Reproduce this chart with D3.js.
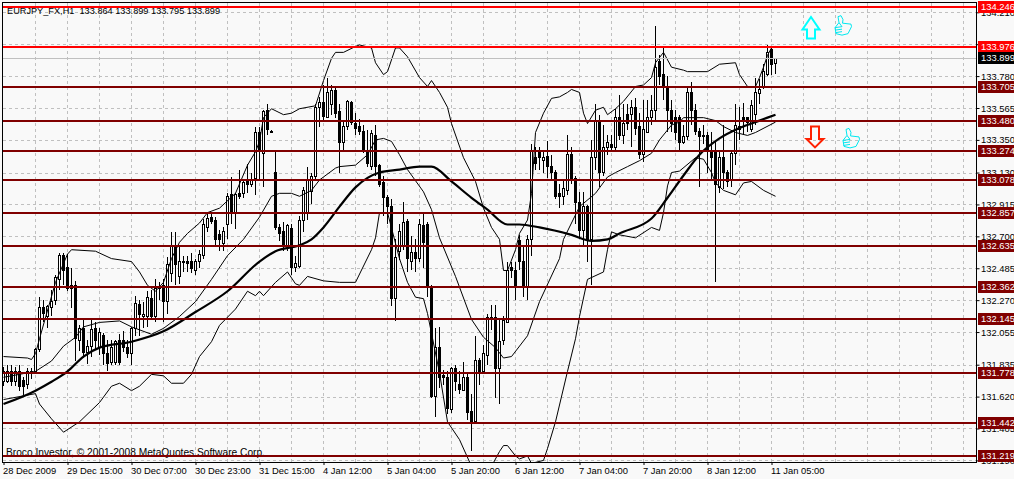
<!DOCTYPE html>
<html>
<head>
<meta charset="utf-8">
<script src="https://cdn.jsdelivr.net/npm/d3@7"></script>
<style>
    html, body { margin: 0; padding: 0; background: #f9f9f9; overflow: hidden; }
    svg { display: block; }
    text { font-family: "Liberation Sans", Arial, sans-serif; font-size: 9.4px; fill: #000; }
</style>
</head>
<body>
<div id="chart"></div>
<script>
const titleText = "EURJPY_FX,H1  133.864 133.899 133.795 133.899";
const copyrightText = "Broco Investor, © 2001-2008 MetaQuotes Software Corp.";

const labelBars = [0, 16, 32, 48, 64, 80, 96, 112, 128, 144, 160, 176, 192];
const xLabels = ["28 Dec 2009", "29 Dec 15:00", "30 Dec 07:00", "30 Dec 23:00", "31 Dec 15:00", "4 Jan 12:00", "5 Jan 04:00",
    "5 Jan 20:00", "6 Jan 12:00", "7 Jan 04:00", "7 Jan 20:00", "8 Jan 12:00", "11 Jan 05:00"];
const priceTicks = [134.210, 133.995, 133.780, 133.565, 133.350, 133.130, 132.915, 132.700, 132.485, 132.270, 132.055, 131.835, 131.620, 131.405, 131.190];

const redLevels = [134.246, 133.976];
const darkLevels = [133.705, 133.480, 133.274, 133.078, 132.857, 132.635, 132.362, 132.145, 131.778, 131.442, 131.219];
const bidPrice = 133.899;

// candles, one entry per hourly bar
const opens = [131.72,131.72,131.79,131.72,131.79,131.73,131.70,131.79,131.79,131.94,132.22,132.16,132.22,132.27,132.41,132.57,132.49,132.35,132.37,132.00,
    132.08,131.92,131.96,132.08,131.95,132.03,131.91,131.85,131.85,132.00,132.00,131.95,131.91,132.08,132.24,132.16,132.16,132.28,132.16,132.35,
    132.37,132.26,132.45,132.63,132.43,132.53,132.53,132.53,132.47,132.53,132.57,132.76,132.83,132.81,132.71,132.65,132.78,132.98,132.86,132.99,
    132.99,133.07,133.05,133.09,133.40,133.26,133.55,133.41,133.13,132.76,132.73,132.64,132.75,132.49,132.50,132.81,132.86,133.00,133.10,133.57,
    133.60,133.50,133.59,133.68,133.54,133.33,133.44,133.60,133.46,133.44,133.41,133.28,133.17,133.38,133.18,133.06,132.96,132.90,132.28,132.60,
    132.63,132.80,132.53,132.59,132.55,132.77,132.78,132.36,131.62,131.95,131.76,131.75,131.53,131.81,131.70,131.66,131.75,131.52,131.45,131.86,
    131.79,131.90,132.14,132.15,131.81,132.00,132.12,132.49,132.47,132.67,132.53,132.36,132.68,133.23,133.27,133.21,133.24,133.17,133.13,132.99,
    132.97,133.01,133.25,133.09,132.93,132.74,132.90,132.68,133.23,133.48,133.13,133.30,133.32,133.30,133.50,133.38,133.52,133.52,133.57,133.44,
    133.25,133.40,133.50,133.55,133.88,133.79,133.71,133.55,133.50,133.50,133.33,133.37,133.67,133.55,133.41,133.37,133.38,133.28,133.28,133.03,
    133.23,133.13,133.08,133.26,133.44,133.50,133.50,133.42,133.52,133.66,133.70,133.79,133.96,133.864];
const highs = [131.82,131.83,131.83,131.82,131.83,131.75,131.81,131.81,131.95,132.29,132.27,132.24,132.34,132.44,132.59,132.59,132.58,132.49,132.40,132.10,
    132.14,132.00,132.14,132.12,132.08,132.05,132.00,132.00,132.00,132.04,132.06,132.00,132.09,132.30,132.27,132.26,132.33,132.34,132.41,132.39,
    132.41,132.56,132.73,132.73,132.63,132.57,132.57,132.59,132.55,132.61,132.82,132.86,132.85,132.83,132.74,132.76,132.99,133.10,132.99,133.15,
    133.08,133.19,133.13,133.44,133.44,133.55,133.59,133.42,133.27,132.78,132.80,132.78,132.78,132.57,132.84,133.03,133.17,133.13,133.59,133.64,
    133.72,133.77,133.72,133.71,133.59,133.48,133.62,133.61,133.53,133.49,133.45,133.42,133.42,133.45,133.19,133.11,132.98,132.95,132.68,132.78,
    132.93,132.82,132.70,132.68,132.82,132.85,132.80,132.37,132.08,132.09,131.80,131.79,131.82,131.83,131.79,131.85,131.78,131.64,132.03,131.88,
    131.97,132.18,132.24,132.24,132.14,132.16,132.53,132.53,132.53,132.71,132.64,132.71,133.32,133.30,133.30,133.28,133.34,133.25,133.15,133.05,
    133.08,133.38,133.30,133.11,133.00,133.00,132.91,133.35,133.59,133.52,133.45,133.38,133.38,133.56,133.65,133.59,133.59,133.62,133.63,133.53,
    133.62,133.62,133.65,134.12,133.92,133.97,133.78,133.62,133.55,133.52,133.45,133.70,133.74,133.59,133.43,133.45,133.40,133.40,133.34,133.28,
    133.45,133.15,133.28,133.59,133.57,133.60,133.50,133.62,133.77,133.76,133.86,133.99,133.98,133.899];
const lows = [131.69,131.71,131.69,131.69,131.66,131.63,131.67,131.74,131.77,131.92,132.12,132.08,132.16,132.24,132.34,132.37,132.33,132.22,131.86,131.93,
    131.88,131.84,131.89,131.94,131.90,131.83,131.79,131.83,131.83,131.83,131.92,131.88,131.83,132.03,132.03,132.08,132.09,132.14,132.12,132.27,
    132.12,132.18,132.39,132.37,132.38,132.46,132.46,132.45,132.44,132.49,132.55,132.73,132.78,132.63,132.60,132.60,132.68,132.78,132.75,132.95,
    132.96,132.99,133.03,132.98,133.08,133.03,133.38,133.40,132.74,132.67,132.60,132.60,132.44,132.46,132.49,132.73,132.81,132.92,133.08,133.44,
    133.48,133.50,133.52,133.50,133.13,133.28,133.42,133.45,133.38,133.38,133.26,133.17,133.15,133.11,133.03,132.84,132.78,132.23,132.13,132.54,
    132.61,132.46,132.47,132.46,132.53,132.49,132.29,131.61,131.48,131.68,131.70,131.50,131.51,131.66,131.64,131.66,131.46,131.25,131.45,131.70,
    131.78,131.83,132.07,131.61,131.57,131.97,132.12,132.42,132.27,132.47,132.29,132.27,132.57,133.15,133.15,133.13,133.09,133.08,132.95,132.89,
    132.91,132.98,133.05,132.78,132.68,132.63,132.53,132.37,133.15,133.03,133.11,133.25,133.28,133.27,133.35,133.32,133.42,133.30,133.38,133.22,
    133.20,133.40,133.45,133.48,133.72,133.62,133.40,133.40,133.35,133.28,133.32,133.35,133.45,133.38,133.03,133.32,133.13,133.08,132.39,132.99,
    133.02,133.03,133.03,133.18,133.35,133.38,133.40,133.40,133.45,133.59,133.69,133.78,133.79,133.795];
const closes = [131.79,131.79,131.72,131.79,131.69,131.69,131.79,131.78,131.94,132.22,132.18,132.23,132.26,132.42,132.57,132.47,132.35,132.37,132.01,132.08,
    131.92,131.96,132.07,132.00,132.05,131.91,131.84,131.95,131.99,131.85,131.95,131.91,132.08,132.25,132.17,132.17,132.29,132.16,132.35,132.36,
    132.26,132.51,132.64,132.51,132.53,132.53,132.52,132.48,132.53,132.58,132.78,132.82,132.80,132.68,132.68,132.73,132.97,132.86,132.98,132.97,
    133.06,133.05,133.08,133.40,133.27,133.54,133.42,133.40,132.76,132.72,132.64,132.77,132.49,132.52,132.81,133.01,133.08,133.10,133.57,133.60,
    133.51,133.67,133.68,133.53,133.33,133.44,133.61,133.47,133.43,133.41,133.28,133.19,133.39,133.17,133.05,132.96,132.90,132.28,132.56,132.73,
    132.79,132.55,132.59,132.55,132.78,132.66,132.36,131.62,131.95,131.75,131.75,131.54,131.81,131.72,131.67,131.75,131.51,131.45,131.86,131.79,
    131.91,132.15,132.15,131.81,131.99,132.13,132.47,132.47,132.37,132.53,132.36,132.68,133.28,133.19,133.23,133.23,133.17,133.13,132.97,132.97,
    133.02,133.25,133.09,132.93,132.74,132.90,132.68,133.23,133.48,133.13,133.30,133.33,133.30,133.50,133.38,133.46,133.46,133.57,133.43,133.25,
    133.42,133.50,133.55,133.84,133.78,133.71,133.55,133.46,133.40,133.33,133.37,133.67,133.55,133.41,133.37,133.38,133.28,133.23,133.05,133.23,
    133.13,133.07,133.26,133.45,133.42,133.48,133.47,133.58,133.67,133.69,133.81,133.94,133.86,133.899];

// moving average, thick line
const maBars = [0,8,12,16,20,24,32,40,48,56,64,68,74,77,80,84,88,94,99,104,107,112,117,121,126,129,134,142,147,151,154,162,166,170,174,179,184,189,193];
const maValues = [131.57,131.66,131.72,131.79,131.89,131.95,131.99,132.06,132.19,132.33,132.53,132.60,132.64,132.68,132.76,132.90,133.03,133.13,133.15,133.17,
    133.17,133.07,132.96,132.88,132.78,132.78,132.76,132.71,132.67,132.68,132.72,132.82,132.96,133.11,133.25,133.36,133.43,133.48,133.52];

// envelope lines, thin
const upperBars = [0,6,7,8,9,13,16,17,23,27,32,34,36,38,40,42,44,46,49,51,54,58,61,63,64,65,67,70,72,74,78,80,82,83,85,88,89,92,93,95,96,98,99,101,104,106,107,109,111,112,115,118,120,122,124,125,126,128,129,131,132,133,135,137,139,141,142,144,145,146,148,150,151,153,155,158,160,162,163,165,167,170,171,176,179,183,184,186,188,189,190,191,192,193];
const upperValues = [131.89,131.88,131.87,131.91,132.01,132.39,132.58,132.61,132.60,132.55,132.53,132.46,132.37,132.33,132.39,132.55,132.66,132.72,132.79,132.86,132.89,132.99,133.18,133.27,133.34,133.50,133.56,133.52,133.53,133.56,133.58,133.75,133.90,133.94,133.94,133.98,133.99,133.97,133.87,133.79,133.81,133.97,133.97,133.91,133.77,133.71,133.75,133.67,133.57,133.46,133.23,133.07,132.89,132.76,132.68,132.47,132.47,132.61,132.72,132.81,132.99,133.40,133.53,133.63,133.64,133.67,133.69,133.67,133.53,133.46,133.55,133.57,133.52,133.56,133.61,133.71,133.72,133.77,133.87,133.94,133.84,133.82,133.81,133.81,133.86,133.87,133.79,133.71,133.71,133.77,133.84,133.92,133.97,133.98];
const middleBars = [0,8,12,15,18,20,24,29,32,37,40,44,48,52,56,60,64,67,69,72,74,77,79,83,84,88,91,93,95,97,99,101,105,107,109,113,117,120,123,125,127,131,134,139,140,144,148,151,153,156,159,162,164,167,169,170,175,178,180,183,186,188,193];
const middleValues = [131.75,131.79,131.86,131.96,132.02,132.09,132.12,132.13,132.09,132.04,132.08,132.16,132.26,132.41,132.57,132.68,132.83,132.97,132.99,132.99,132.97,133.01,133.08,133.16,133.17,133.18,133.25,133.35,133.36,133.34,133.25,133.15,133.00,132.88,132.69,132.43,132.14,132.02,131.95,131.88,131.89,132.03,132.26,132.55,132.68,132.90,132.99,133.10,133.13,133.17,133.21,133.26,133.35,133.45,133.47,133.50,133.50,133.48,133.44,133.40,133.38,133.40,133.47];
const lowerBars = [0,8,9,12,15,19,24,27,29,32,34,37,40,42,45,47,49,52,54,58,61,63,64,65,68,71,73,74,76,80,84,88,92,93,94,96,99,101,103,105,106,109,111,114,117,122,124,125,126,128,129,131,132,135,136,138,141,143,144,146,150,151,152,154,158,162,164,165,166,167,169,173,175,177,178,180,183,185,187,190,193];
const lowerValues = [131.60,131.64,131.57,131.47,131.38,131.45,131.58,131.69,131.71,131.66,131.69,131.77,131.76,131.71,131.71,131.77,131.89,131.99,132.10,132.21,132.33,132.30,132.33,132.30,132.39,132.46,132.38,132.37,132.43,132.40,132.39,132.39,132.61,132.69,132.86,132.86,132.55,132.39,132.29,132.28,132.18,131.78,131.45,131.33,131.15,131.15,131.25,131.29,131.29,131.22,131.20,131.22,131.17,131.19,131.27,131.45,131.79,132.01,132.16,132.41,132.46,132.61,132.73,132.71,132.69,132.76,132.74,132.86,133.04,133.13,133.14,133.23,133.22,133.13,133.06,133.01,132.98,133.06,133.07,133.01,132.97];

// objects placed on the chart: [bar, price]
const upArrow = [202, 134.104];
const downArrow = [203, 133.37];
const thumbs = [[210, 134.12], [212, 133.36]];

class Chart {

    constructor() {
        this.width = 1014;
        this.height = 479;
        this.right = 976;
        this.bottom = 462;
        this.lastGridBar = 240;

        this.svg = d3.select("#chart")
            .append("svg")
                .attr("width", this.width)
                .attr("height", this.height);

        this.createScales();
        this.drawGrid();
        this.drawCandles();
        this.drawLines();
        this.drawText();
        this.drawLevels();
        this.drawAxes();
        this.drawObjects();
    }

    createScales() {
        this.xScale = d3.scaleLinear().domain([0, 243.25]).range([3, this.right]);
        this.yScale = d3.scaleLinear().domain([131.19, 134.21]).range([460.4, 12.3]);

        this.svg.append("clipPath").attr("id", "plot")
            .append("rect")
                .attr("x", 2)
                .attr("y", 2)
                .attr("width", this.right - 2)
                .attr("height", this.bottom - 2);
    }

    drawGrid() {
        const grid = this.svg.append("g").attr("stroke", "#c0c0c0").attr("stroke-dasharray", "3,3").attr("shape-rendering", "crispEdges");

        grid.selectAll("line.v")
            .data(d3.range(8, this.lastGridBar + 1, 8))
            .enter()
            .append("line")
                .attr("x1", d => Math.round(this.xScale(d)) + 0.5)
                .attr("x2", d => Math.round(this.xScale(d)) + 0.5)
                .attr("y1", 3)
                .attr("y2", this.bottom);

        grid.selectAll("line.h")
            .data(priceTicks)
            .enter()
            .append("line")
                .attr("x1", 3)
                .attr("x2", this.right)
                .attr("y1", d => Math.round(this.yScale(d)) + 0.5)
                .attr("y2", d => Math.round(this.yScale(d)) + 0.5);
    }

    drawCandles() {
        const g = this.svg.append("g").attr("clip-path", "url(#plot)").attr("shape-rendering", "crispEdges");
        const candles = opens.map((o, i) => ({bar: i, o: o, h: highs[i], l: lows[i], c: closes[i]}));

        g.selectAll("line")
            .data(candles)
            .enter()
            .append("line")
                .attr("x1", d => this.xScale(d.bar) + 0.5)
                .attr("x2", d => this.xScale(d.bar) + 0.5)
                .attr("y1", d => this.yScale(d.h))
                .attr("y2", d => this.yScale(d.l))
                .attr("stroke", "#000");

        g.selectAll("rect")
            .data(candles)
            .enter()
            .append("rect")
                .attr("x", d => this.xScale(d.bar) - 0.5)
                .attr("width", 2)
                .attr("y", d => this.yScale(Math.max(d.o, d.c)))
                .attr("height", d => Math.max(1, Math.abs(this.yScale(d.o) - this.yScale(d.c))))
                .attr("fill", d => d.c >= d.o ? "#fff" : "#000")
                .attr("stroke", "#000");
    }

    drawLines() {
        const g = this.svg.append("g").attr("clip-path", "url(#plot)").attr("fill", "none").attr("stroke", "#000");
        const line = d3.line()
            .x(d => this.xScale(d[0]) + 0.5)
            .y(d => this.yScale(d[1]));
        const pairs = (bars, values) => bars.map((b, i) => [b, values[i]]);

        [[upperBars, upperValues], [middleBars, middleValues], [lowerBars, lowerValues]].forEach(s => {
            g.append("path").attr("d", line(pairs(s[0], s[1]))).attr("stroke-width", 1);
        });
        line.curve(d3.curveMonotoneX);
        g.append("path").attr("d", line(pairs(maBars, maValues))).attr("stroke-width", 2.2);
    }

    drawText() {
        this.svg.append("text").attr("x", 7).attr("y", 14).style("white-space", "pre").style("font-size", "9.2px").text(titleText);
        this.svg.append("text").attr("x", 6).attr("y", 456).style("font-size", "10.2px").text(copyrightText);
    }

    drawLevels() {
        const g = this.svg.append("g").attr("shape-rendering", "crispEdges");

        // bid line sits under the support and resistance levels
        g.append("line")
            .attr("x1", 3)
            .attr("x2", this.right)
            .attr("y1", Math.round(this.yScale(bidPrice)) + 0.5)
            .attr("y2", Math.round(this.yScale(bidPrice)) + 0.5)
            .attr("stroke", "#c0c0c0");

        const levels = redLevels.map(d => ({price: d, color: "#ff0000"}))
            .concat(darkLevels.map(d => ({price: d, color: "#800000"})));

        g.selectAll("line.level")
            .data(levels)
            .enter()
            .append("line")
                .attr("x1", 3)
                .attr("x2", this.right)
                .attr("y1", d => Math.round(this.yScale(d.price)))
                .attr("y2", d => Math.round(this.yScale(d.price)))
                .attr("stroke", d => d.color)
                .attr("stroke-width", 2);
        this.levels = levels;
    }

    drawAxes() {
        const x = this.svg.append("g")
            .attr("transform", `translate(0.5,${this.bottom})`)
            .call(d3.axisBottom(this.xScale).tickValues(labelBars).tickFormat((d, i) => xLabels[i]).tickSize(3).tickSizeOuter(0));
        x.select(".domain").remove();
        x.selectAll("text").attr("text-anchor", "start").attr("x", -1).attr("y", 5.5).attr("dy", "0.71em");

        const y = this.svg.append("g")
            .attr("transform", `translate(${this.right + 0.5},0)`)
            .call(d3.axisRight(this.yScale).tickValues(priceTicks).tickFormat(d3.format(".3f")).tickSize(3).tickSizeOuter(0));
        y.select(".domain").remove();
        y.selectAll("text").attr("x", 4.5);

        // frame of the plot
        this.svg.append("path")
            .attr("d", `M2.5,${this.bottom + 0.5}V2.5H${this.right + 0.5}V${this.bottom + 0.5}H2.5`)
            .attr("fill", "none")
            .attr("stroke", "#000")
            .attr("shape-rendering", "crispEdges");

        // price flags on top of the tick labels
        const flags = this.levels.concat([{price: bidPrice, color: "#000000"}]);
        const flag = this.svg.append("g").selectAll("g")
            .data(flags)
            .enter()
            .append("g")
                .attr("transform", d => `translate(${this.right + 2},${Math.round(this.yScale(d.price))})`);
        flag.append("rect")
            .attr("y", -6)
            .attr("width", 36)
            .attr("height", 12)
            .attr("fill", d => d.color);
        flag.append("text")
            .attr("x", 3)
            .attr("dy", "0.35em")
            .style("fill", "#fff")
            .text(d => d.price.toFixed(3));
    }

    drawObjects() {
        const up = "M0,-11L8.5,1.5H4V10.5H-4V1.5H-8.5Z";
        const down = "M-4,-10.5H4V2H8.5L0,10.5L-8.5,2H-4Z";
        const thumb = "M-5,-9L-2,-10L0,-6L-0.5,-2.5L8,-1.5L8.5,1L5,8L-1,9.5L-7,8L-8,2L-4,-3Z" +
            "M-8,2L-1,1M-8,4.5L-1,3.5M-7.5,7L-1,6M-4,-3L-1,1";

        this.svg.append("path")
            .attr("transform", `translate(${this.xScale(upArrow[0])},${this.yScale(upArrow[1])})`)
            .attr("d", up)
            .attr("fill", "none")
            .attr("stroke", "#00ffff")
            .attr("stroke-width", 2);

        this.svg.append("path")
            .attr("transform", `translate(${this.xScale(downArrow[0])},${this.yScale(downArrow[1])})`)
            .attr("d", down)
            .attr("fill", "none")
            .attr("stroke", "#ff2000")
            .attr("stroke-width", 2);

        this.svg.selectAll("path.thumb")
            .data(thumbs)
            .enter()
            .append("path")
                .attr("class", "thumb")
                .attr("transform", d => `translate(${this.xScale(d[0])},${this.yScale(d[1])})`)
                .attr("d", thumb)
                .attr("fill", "none")
                .attr("stroke", "#00e8f0")
                .attr("stroke-width", 1);
    }
}

new Chart();
</script>
</body>
</html>
